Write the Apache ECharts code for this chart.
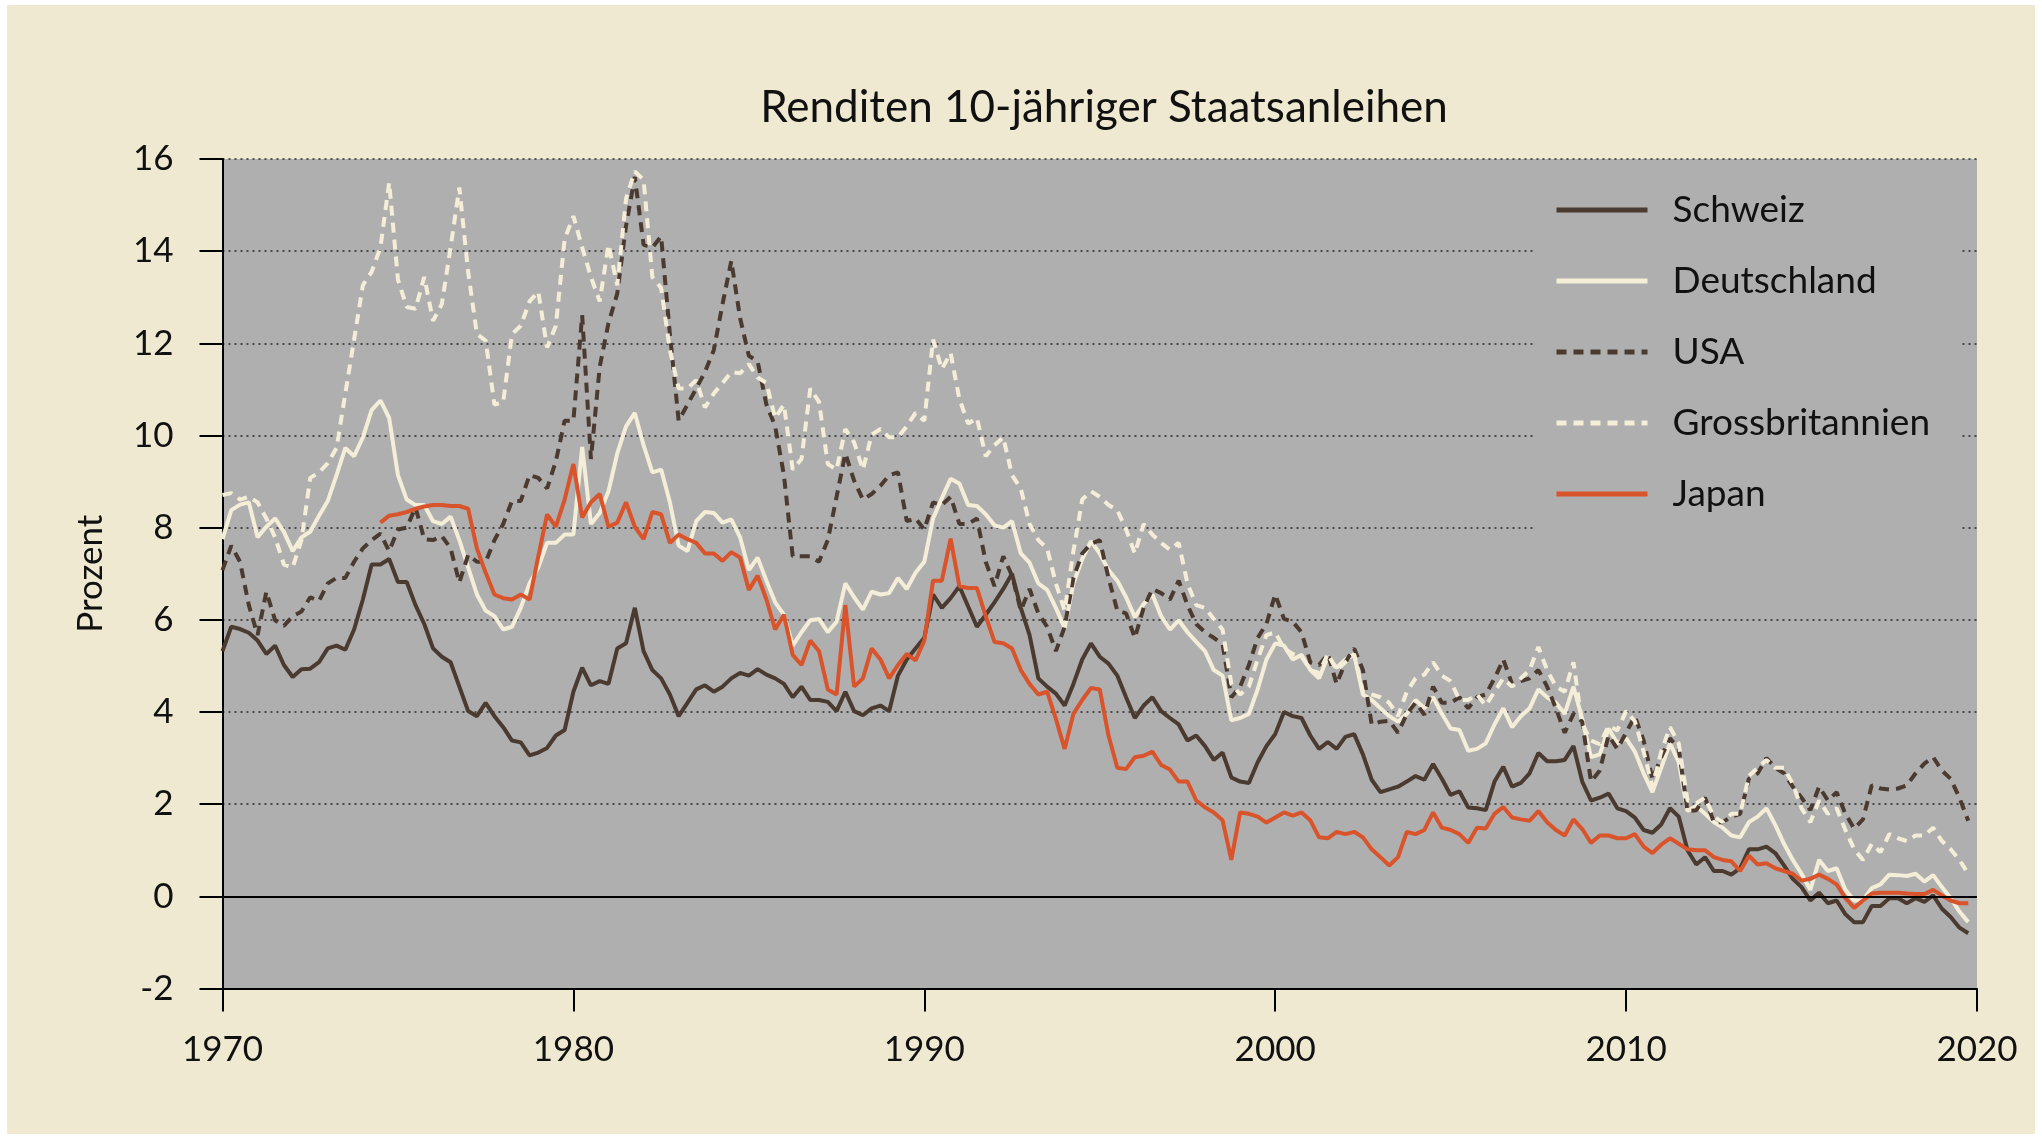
<!DOCTYPE html>
<html>
<head>
<meta charset="utf-8">
<title>Renditen 10-jähriger Staatsanleihen</title>
<script src="https://cdn.jsdelivr.net/npm/echarts@6/dist/echarts.min.js"></script>
<style>
html, body { margin: 0; padding: 0; background: #ffffff; }
#chart { position: absolute; left: 7px; top: 5px; width: 2028px; height: 1129px; }
</style>
</head>
<body>
<div id="chart"></div>
<script>
// Quartalswerte 1970 Q1 bis 2019 Q4 (Prozent)
var startYear = 1970;
var endYear = 2020;
var quarters = [];
for (var y = startYear; y < endYear; y++) {
    for (var q = 0; q < 4; q++) quarters.push(y + q / 4);
}
var xTicks = [1970, 1980, 1990, 2000, 2010, 2020];

var schweiz = [
    5.32, 5.85, 5.8, 5.72,   5.55, 5.26, 5.44, 5.02,   4.76, 4.93, 4.94, 5.08,   5.38, 5.44, 5.35, 5.79,
    6.44, 7.2, 7.2, 7.32,    6.82, 6.82, 6.32, 5.91,   5.38, 5.2, 5.08, 4.55,    4.02, 3.91, 4.2, 3.91,
    3.67, 3.38, 3.34, 3.06,  3.12, 3.22, 3.49, 3.61,   4.44, 4.96, 4.58, 4.67,   4.61, 5.38, 5.49, 6.26,
    5.32, 4.91, 4.73, 4.38,  3.91, 4.2, 4.49, 4.58,    4.44, 4.55, 4.73, 4.85,   4.79, 4.93, 4.81, 4.73,
    4.61, 4.32, 4.55, 4.26,  4.26, 4.22, 4.02, 4.44,   4.02, 3.93, 4.08, 4.14,   4.02, 4.79, 5.14, 5.38,
    5.61, 6.55, 6.26, 6.47,  6.73, 6.29, 5.85, 6.11,   6.38, 6.67, 7.0, 6.26,    5.67, 4.73, 4.55, 4.4,
    4.14, 4.61, 5.14, 5.49,  5.2, 5.05, 4.79, 4.32,    3.87, 4.14, 4.32, 4.02,   3.87, 3.73, 3.38, 3.49,
    3.26, 2.96, 3.12, 2.58,  2.49, 2.46, 2.91, 3.26,   3.52, 4.0, 3.91, 3.87,    3.49, 3.2, 3.35, 3.2,
    3.46, 3.52, 3.08, 2.53,  2.26, 2.32, 2.38, 2.49,   2.61, 2.53, 2.87, 2.55,   2.2, 2.28, 1.93, 1.91,
    1.87, 2.49, 2.81, 2.38,  2.46, 2.67, 3.11, 2.93,   2.93, 2.96, 3.26, 2.49,   2.08, 2.14, 2.23, 1.91,
    1.85, 1.71, 1.44, 1.38,  1.56, 1.91, 1.73, 1.0,    0.69, 0.85, 0.55, 0.55,   0.47, 0.61, 1.02, 1.02,
    1.08, 0.94, 0.67, 0.38,  0.2, -0.09, 0.08, -0.15,  -0.09, -0.39, -0.56, -0.56, -0.21, -0.21, -0.04, -0.04,
    -0.15, -0.04, -0.12, 0.02, -0.27, -0.45, -0.68, -0.8
];

var deutschland = [
    7.75, 8.38, 8.5, 8.55,   7.79, 8.02, 8.2, 7.91,    7.49, 7.79, 7.91, 8.26,   8.58, 9.14, 9.73, 9.55,
    9.96, 10.55, 10.76, 10.38, 9.14, 8.61, 8.49, 8.49, 8.14, 8.08, 8.24, 7.73,   7.14, 6.55, 6.2, 6.08,
    5.79, 5.85, 6.26, 6.79,  7.14, 7.67, 7.67, 7.85,   7.85, 9.75, 8.08, 8.32,   8.79, 9.61, 10.2, 10.49,
    9.79, 9.2, 9.26, 8.55,   7.61, 7.49, 8.14, 8.34,   8.32, 8.11, 8.18, 7.79,   7.08, 7.35, 6.85, 6.38,
    6.11, 5.44, 5.73, 5.99,  6.02, 5.73, 5.96, 6.79,   6.49, 6.22, 6.61, 6.55,   6.58, 6.91, 6.67, 7.02,
    7.26, 8.2, 8.64, 9.06,   8.96, 8.49, 8.47, 8.29,   8.05, 8.0, 8.14, 7.44,    7.24, 6.79, 6.65, 6.26,
    5.82, 6.79, 7.32, 7.71,  7.44, 7.08, 6.85, 6.49,   6.06, 6.34, 6.55, 6.08,   5.79, 5.99, 5.73, 5.52,
    5.32, 4.91, 4.79, 3.82,  3.87, 3.96, 4.49, 5.14,   5.49, 5.44, 5.14, 5.24,   4.91, 4.73, 5.2, 4.96,
    5.14, 5.24, 4.38, 4.26,  4.08, 3.91, 3.79, 3.96,   4.26, 4.08, 4.32, 3.96,   3.64, 3.61, 3.16, 3.2,
    3.32, 3.73, 4.08, 3.67,  3.91, 4.08, 4.49, 4.32,   4.2, 3.96, 4.55, 3.85,    3.02, 3.08, 3.64, 3.32,
    3.43, 3.14, 2.67, 2.26,  2.79, 3.32, 2.91, 1.85,   1.96, 1.79, 1.61, 1.49,   1.32, 1.28, 1.61, 1.73,
    1.91, 1.55, 1.14, 0.79,  0.49, 0.14, 0.79, 0.55,   0.61, 0.14, -0.09, -0.09, 0.18, 0.26, 0.47, 0.46,
    0.44, 0.49, 0.32, 0.46,  0.2, -0.04, -0.33, -0.56
];

var usa = [
    7.08, 7.61, 7.26, 6.32,  5.67, 6.61, 5.99, 5.87,   6.08, 6.18, 6.49, 6.41,   6.79, 6.91, 6.91, 7.26,
    7.55, 7.73, 7.87, 7.49,  7.96, 8.0, 8.44, 7.75,    7.73, 7.82, 7.55, 6.81,   7.41, 7.26, 7.26, 7.73,
    8.08, 8.58, 8.58, 9.14,  9.08, 8.85, 9.44, 10.32,  10.32, 12.61, 9.49, 11.49, 12.44, 13.08, 14.55, 15.61,
    14.14, 14.08, 14.32, 12.2, 10.32, 10.67, 11.02, 11.38, 11.85, 12.85, 13.79, 12.55, 11.73, 11.61, 10.67, 10.2,
    9.14, 7.38, 7.38, 7.38,  7.26, 7.73, 8.67, 9.61,   9.02, 8.61, 8.73, 8.91,   9.14, 9.2, 8.14, 8.2,
    7.96, 8.55, 8.49, 8.67,  8.08, 8.08, 8.2, 7.26,    6.73, 7.38, 6.96, 6.2,    6.67, 6.14, 5.85, 5.32,
    5.85, 6.91, 7.44, 7.65,  7.73, 6.91, 6.2, 6.14,    5.61, 6.26, 6.67, 6.58,   6.44, 6.85, 6.32, 5.91,
    5.73, 5.61, 5.47, 4.32,  4.55, 5.02, 5.61, 5.91,   6.55, 6.02, 5.96, 5.73,   5.08, 5.02, 5.26, 4.61,
    5.08, 5.38, 4.91, 3.73,  3.79, 3.81, 3.55, 3.96,   4.2, 3.94, 4.55, 4.2,     4.2, 4.32, 4.08, 4.32,
    4.38, 4.73, 5.14, 4.61,  4.67, 4.73, 4.91, 4.55,   4.08, 3.55, 3.96, 3.79,   2.49, 2.73, 3.49, 3.2,
    3.55, 3.91, 3.38, 2.55,  3.02, 3.43, 3.2, 1.85,    1.87, 2.14, 1.61, 1.61,   1.73, 1.79, 2.55, 2.67,
    3.0, 2.79, 2.67, 2.38,   2.14, 1.87, 2.38, 2.08,   2.26, 1.79, 1.47, 1.67,   2.41, 2.34, 2.32, 2.34,
    2.41, 2.67, 2.88, 3.02,  2.73, 2.55, 2.14, 1.64
];

var grossbritannien = [
    8.71, 8.75, 8.61, 8.67,  8.55, 8.2, 7.79, 7.2,     7.14, 7.73, 9.08, 9.2,    9.4, 9.73, 10.91, 12.08,
    13.26, 13.55, 14.08, 15.49, 13.38, 12.79, 12.75, 13.44, 12.49, 12.85, 14.08, 15.38, 13.55, 12.2, 12.06, 10.67,
    10.73, 12.2, 12.38, 12.91, 13.12, 11.91, 12.38, 14.26, 14.76, 14.08, 13.44, 12.91, 14.14, 13.26, 15.14, 15.73,
    15.55, 13.44, 13.2, 11.85, 11.02, 11.02, 11.2, 10.61, 10.91, 11.14, 11.38, 11.35, 11.55, 11.26, 11.14, 10.38,
    10.67, 9.26, 9.49, 11.02, 10.73, 9.38, 9.26, 10.14, 9.85, 9.26, 10.02, 10.14, 9.96, 9.96, 10.2, 10.49,
    10.32, 12.08, 11.44, 11.79, 10.79, 10.26, 10.38, 9.55, 9.79, 9.96, 9.14, 8.85, 8.08, 7.73, 7.55, 6.79,
    6.2, 7.49, 8.61, 8.79,   8.67, 8.49, 8.38, 7.96,   7.44, 8.08, 7.85, 7.67,   7.52, 7.67, 6.79, 6.32,
    6.26, 6.02, 5.79, 4.61,  4.38, 4.55, 5.14, 5.67,   5.73, 5.38, 5.26, 5.2,    4.91, 4.85, 5.26, 4.91,
    5.08, 5.26, 4.44, 4.38,  4.32, 4.2, 3.91, 4.44,    4.73, 4.81, 5.08, 4.79,   4.67, 4.26, 4.26, 4.38,
    4.14, 4.44, 4.73, 4.55,  4.73, 4.91, 5.41, 4.91,   4.55, 4.44, 5.08, 3.73,   3.38, 3.3, 3.7, 3.6,
    4.02, 3.8, 3.14, 2.38,   3.14, 3.67, 3.32, 2.08,   2.02, 2.14, 1.73, 1.61,   1.79, 1.79, 2.61, 2.79,
    2.96, 2.79, 2.79, 2.44,  1.91, 1.61, 2.08, 1.79,   1.91, 1.44, 1.02, 0.79,   1.14, 0.96, 1.35, 1.26,
    1.2, 1.32, 1.32, 1.49,   1.2, 1.02, 0.79, 0.49
];

// Japan: Reihe beginnt erst Mitte 1974
var japan = [
    null, null, null, null,  null, null, null, null,   null, null, null, null,   null, null, null, null,
    null, null, 8.11, 8.26,  8.29, 8.34, 8.41, 8.46,   8.49, 8.49, 8.47, 8.47,   8.41, 7.55, 7.02, 6.55,
    6.47, 6.44, 6.55, 6.44,  7.38, 8.29, 8.02, 8.61,   9.38, 8.22, 8.55, 8.73,   8.02, 8.11, 8.55, 8.02,
    7.75, 8.34, 8.29, 7.67,  7.85, 7.75, 7.67, 7.44,   7.44, 7.28, 7.47, 7.35,   6.65, 6.96, 6.44, 5.79,
    6.11, 5.24, 5.02, 5.55,  5.32, 4.49, 4.38, 6.32,   4.55, 4.73, 5.38, 5.14,   4.73, 5.02, 5.26, 5.12,
    5.55, 6.85, 6.85, 7.76,  6.73, 6.69, 6.69, 6.08,   5.52, 5.49, 5.38, 4.91,   4.61, 4.38, 4.44, 3.85,
    3.2, 3.96, 4.26, 4.52,   4.49, 3.49, 2.79, 2.76,   3.02, 3.05, 3.14, 2.85,   2.75, 2.49, 2.49, 2.08,
    1.93, 1.82, 1.65, 0.79,  1.82, 1.79, 1.73, 1.6,    1.71, 1.82, 1.75, 1.82,   1.65, 1.28, 1.26, 1.4,
    1.35, 1.4, 1.28, 1.02,   0.85, 0.67, 0.85, 1.4,    1.35, 1.44, 1.82, 1.49,   1.44, 1.35, 1.16, 1.49,
    1.47, 1.79, 1.94, 1.71,  1.67, 1.64, 1.85, 1.61,   1.44, 1.32, 1.67, 1.46,   1.16, 1.32, 1.32, 1.26,
    1.26, 1.35, 1.08, 0.94,  1.12, 1.26, 1.14, 1.02,   1.0, 1.0, 0.85, 0.79,     0.76, 0.55, 0.88, 0.69,
    0.72, 0.61, 0.55, 0.49,  0.34, 0.38, 0.47, 0.38,   0.26, -0.04, -0.25, -0.09, 0.06, 0.08, 0.08, 0.08,
    0.06, 0.05, 0.05, 0.14,  0.02, -0.09, -0.15, -0.15
];

var dunkel = '#4a3a30';
var hell = '#f4eed8';
var orange = '#d9532b';
var schrift = 'Lato, "Open Sans", sans-serif';

function pairs(values) {
    return quarters.map(function (x, i) { return [x, values[i]]; });
}

function linie(name, values, color, dashed) {
    return {
        name: name,
        type: 'line',
        data: pairs(values),
        symbol: 'none',
        showSymbol: false,
        connectNulls: false,
        lineStyle: {
            color: color,
            width: 4,
            type: dashed ? [10, 7] : 'solid'
        },
        itemStyle: { color: color },
        emphasis: { disabled: true },
        animation: false
    };
}

var series = [
    linie('Schweiz', schweiz, dunkel, false),
    linie('Deutschland', deutschland, hell, false),
    linie('USA', usa, dunkel, true),
    linie('Grossbritannien', grossbritannien, hell, true),
    linie('Japan', japan, orange, false)
];

// Nulllinie
series[0].markLine = {
    silent: true,
    symbol: ['none', 'none'],
    label: { show: false },
    lineStyle: { color: '#000', width: 2, type: 'solid' },
    data: [{ yAxis: 0 }],
    animation: false
};

var myChart = echarts.init(document.getElementById('chart'));
var option = {
    backgroundColor: '#efe9d2',
    animation: false,
    title: {
        text: 'Renditen 10-jähriger Staatsanleihen',
        left: 1092,
        textAlign: 'center',
        top: 76,
        textStyle: {
            fontFamily: schrift,
            fontWeight: 'normal',
            fontSize: 44,
            color: '#111'
        }
    },
    legend: {
        data: ['Schweiz', 'Deutschland', 'USA', 'Grossbritannien', 'Japan'],
        orient: 'vertical',
        left: 1529,
        top: 167,
        padding: [18, 30, 25, 18],
        backgroundColor: '#afafaf',
        itemWidth: 91,
        itemHeight: 14,
        itemGap: 31,
        selectedMode: false,
        itemStyle: { color: 'transparent', borderColor: 'transparent', borderWidth: 0, opacity: 0 },
        lineStyle: { width: 5 },
        textStyle: {
            fontFamily: schrift,
            fontSize: 37,
            color: '#111',
            lineHeight: 40,
            padding: [0, 0, 0, 20]
        }
    },
    grid: {
        left: 215.5,
        right: 58,
        top: 154,
        bottom: 145.5,
        show: true,
        backgroundColor: '#afafaf',
        borderWidth: 0
    },
    xAxis: {
        type: 'value',
        min: xTicks[0],
        max: xTicks[xTicks.length - 1],
        interval: 10,
        axisLine: { onZero: false, lineStyle: { color: '#000', width: 2 } },
        axisTick: { show: true, inside: false, length: 23, lineStyle: { color: '#000', width: 2 } },
        axisLabel: {
            margin: 44,
            fontFamily: schrift,
            fontSize: 35,
            color: '#111',
            formatter: function (v) { return String(v); }
        },
        splitLine: { show: false }
    },
    yAxis: {
        type: 'value',
        min: -2,
        max: 16,
        interval: 2,
        name: 'Prozent',
        nameLocation: 'middle',
        nameGap: 114,
        nameRotate: 90,
        nameTextStyle: {
            fontFamily: schrift,
            fontSize: 35,
            color: '#111'
        },
        axisLine: { show: true, lineStyle: { color: '#000', width: 2 } },
        axisTick: { show: true, length: 23, lineStyle: { color: '#000', width: 2 } },
        axisLabel: {
            margin: 49,
            fontFamily: schrift,
            fontSize: 35,
            color: '#111'
        },
        splitLine: {
            show: true,
            lineStyle: { color: '#2a2a2a', width: 1.5, type: [2, 4] }
        }
    },
    series: series
};
myChart.setOption(option);
</script>
</body>
</html>
